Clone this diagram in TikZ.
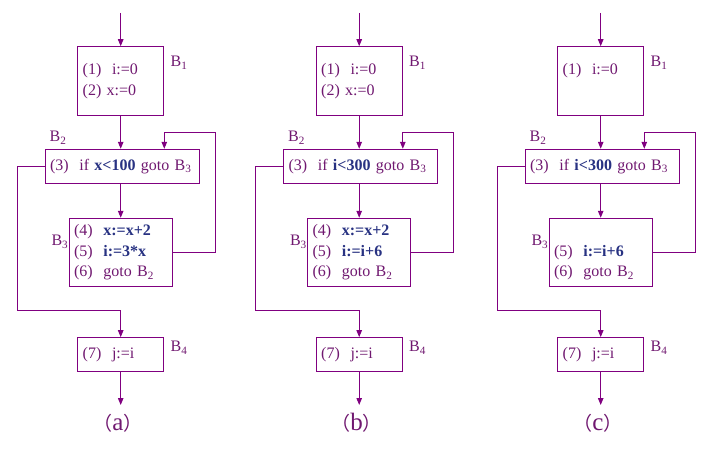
\documentclass[tikz,border=0pt]{standalone}
\usepackage{fontspec}
\setmainfont{Liberation Serif}
\newfontfamily\cjk{Noto Sans CJK SC}
\usepackage{tikz}
\usetikzlibrary{arrows.meta}

\definecolor{linepurple}{RGB}{128,0,128}
\definecolor{textpurple}{RGB}{112,24,112}
\definecolor{codeblue}{RGB}{40,50,130}
\newcommand{\bluebf}[1]{{\bfseries\color{codeblue}#1}}
\newcommand{\capletter}[1]{{\cjk（}{\fontsize{25}{25}\selectfont #1}{\cjk）}}

\tikzset{
	blk/.style={draw=linepurple, line width=1pt, inner xsep=5pt, inner ysep=0pt,
		align=left, text=textpurple, font=\fontsize{16}{20.4}\selectfont},
	bone/.style={blk, text width=76pt, minimum height=68.6pt},
	btwo/.style={blk, text width=144.3pt, minimum height=34.4pt},
	bthree/.style={blk, text width=93pt, minimum height=68.4pt},
	bfour/.style={blk, text width=76pt, minimum height=34.3pt},
	lbl/.style={text=textpurple, inner sep=0pt, font=\fontsize{16}{19}\selectfont},
	captxt/.style={text=textpurple, inner sep=0pt, font=\fontsize{19}{22}\selectfont},
	arr/.style={draw=linepurple, line width=1pt, -{Triangle[length=7pt,width=5.5pt]}},
	ln/.style={draw=linepurple, line width=1pt}
}

\begin{document}
\begin{tikzpicture}[x=1pt,y=-1pt]
	\useasboundingbox (0,0) rectangle (714,452);
	
	%panel (a)
	\node[bone]   (B1a) at (120.7,81)    {(1)\ \ i:=0\\(2) x:=0};
	\node[btwo]   (B2a) at (122.2,166.5) {(3)\ \ if \bluebf{x<100} goto B\textsubscript{3}};
	\node[bthree] (B3a) at (120.5,252.5) {(4)\ \ \bluebf{x:=x+2}\\(5)\ \ \bluebf{i:=3*x}\\(6)\ \ goto B\textsubscript{2}};
	\node[bfour]  (B4a) at (120.7,354.8) {(7)\ \ j:=i};
	%
	\node[lbl,anchor=west] (L1a) at (170.5,63)  {B\textsubscript{1}};
	\node[lbl,anchor=west] (L2a) at (49.5,138)  {B\textsubscript{2}};
	\node[lbl,anchor=east] (L3a) at (68.5,242)  {B\textsubscript{3}};
	\node[lbl,anchor=west] (L4a) at (170.5,348) {B\textsubscript{4}};
	\node[captxt] (capa) at (118,423) {\capletter{a}};
	%
	\coordinate (ina)  at (120.7,13);
	\coordinate (outa) at (120.7,405);
	\coordinate (ra)   at (215,132.3);
	\coordinate (ta)   at (164.3,132.3);
	\coordinate (la)   at (17.3,310);
	%
	\draw[arr] (ina) -- (B1a);										%in--1
	\draw[arr] (B1a) -- (B1a |- B2a.north);							%1--2
	\draw[arr] (B1a |- B2a.south) -- (B1a |- B3a.north);			%2--3
	\draw[arr] (B3a.east) -| (ra) -- (ta) -- (ta |- B2a.north);		%3--2
	\draw[arr] (B2a.west) -| (la) -| (B1a |- B4a.north);				%2--4
	\draw[arr] (B4a) -- (outa);										%4--out
	
	%panel (b)
	\begin{scope}[xshift=238.5pt]
	\node[bone]   (B1b) at (120.7,81)    {(1)\ \ i:=0\\(2) x:=0};
	\node[btwo]   (B2b) at (122.2,166.5) {(3)\ \ if \bluebf{i<300} goto B\textsubscript{3}};
	\node[bthree] (B3b) at (120.5,252.5) {(4)\ \ \bluebf{x:=x+2}\\(5)\ \ \bluebf{i:=i+6}\\(6)\ \ goto B\textsubscript{2}};
	\node[bfour]  (B4b) at (120.7,354.8) {(7)\ \ j:=i};
	%
	\node[lbl,anchor=west] (L1b) at (170.5,63)  {B\textsubscript{1}};
	\node[lbl,anchor=west] (L2b) at (49.5,138)  {B\textsubscript{2}};
	\node[lbl,anchor=east] (L3b) at (68.5,242)  {B\textsubscript{3}};
	\node[lbl,anchor=west] (L4b) at (170.5,348) {B\textsubscript{4}};
	\node[captxt] (capb) at (118,423) {\capletter{b}};
	%
	\coordinate (inb)  at (120.7,13);
	\coordinate (outb) at (120.7,405);
	\coordinate (rb)   at (215,132.3);
	\coordinate (tb)   at (164.3,132.3);
	\coordinate (lb)   at (17.3,310);
	%
	\draw[arr] (inb) -- (B1b);										%in--1
	\draw[arr] (B1b) -- (B1b |- B2b.north);							%1--2
	\draw[arr] (B1b |- B2b.south) -- (B1b |- B3b.north);			%2--3
	\draw[arr] (B3b.east) -| (rb) -- (tb) -- (tb |- B2b.north);		%3--2
	\draw[arr] (B2b.west) -| (lb) -| (B1b |- B4b.north);				%2--4
	\draw[arr] (B4b) -- (outb);										%4--out
	\end{scope}
	
	%panel (c)
	\begin{scope}[xshift=480pt]
	\node[bone]   (B1c) at (120.7,81)    {(1)\ \ i:=0\\\phantom{(2)}};
	\node[btwo]   (B2c) at (122.2,166.5) {(3)\ \ if \bluebf{i<300} goto B\textsubscript{3}};
	\node[bthree] (B3c) at (120.5,252.5) {\phantom{(4)}\\(5)\ \ \bluebf{i:=i+6}\\(6)\ \ goto B\textsubscript{2}};
	\node[bfour]  (B4c) at (120.7,354.8) {(7)\ \ j:=i};
	%
	\node[lbl,anchor=west] (L1c) at (170.5,63)  {B\textsubscript{1}};
	\node[lbl,anchor=west] (L2c) at (49.5,138)  {B\textsubscript{2}};
	\node[lbl,anchor=east] (L3c) at (68.5,242)  {B\textsubscript{3}};
	\node[lbl,anchor=west] (L4c) at (170.5,348) {B\textsubscript{4}};
	\node[captxt] (capc) at (118,423) {\capletter{c}};
	%
	\coordinate (inc)  at (120.7,13);
	\coordinate (outc) at (120.7,405);
	\coordinate (rc)   at (215,132.3);
	\coordinate (tc)   at (164.3,132.3);
	\coordinate (lc)   at (17.3,310);
	%
	\draw[arr] (inc) -- (B1c);										%in--1
	\draw[arr] (B1c) -- (B1c |- B2c.north);							%1--2
	\draw[arr] (B1c |- B2c.south) -- (B1c |- B3c.north);			%2--3
	\draw[arr] (B3c.east) -| (rc) -- (tc) -- (tc |- B2c.north);		%3--2
	\draw[arr] (B2c.west) -| (lc) -| (B1c |- B4c.north);				%2--4
	\draw[arr] (B4c) -- (outc);										%4--out
	\end{scope}
	
	%\draw[help lines] (0,0) grid[step=20] (714,452);
\end{tikzpicture}
\end{document}
